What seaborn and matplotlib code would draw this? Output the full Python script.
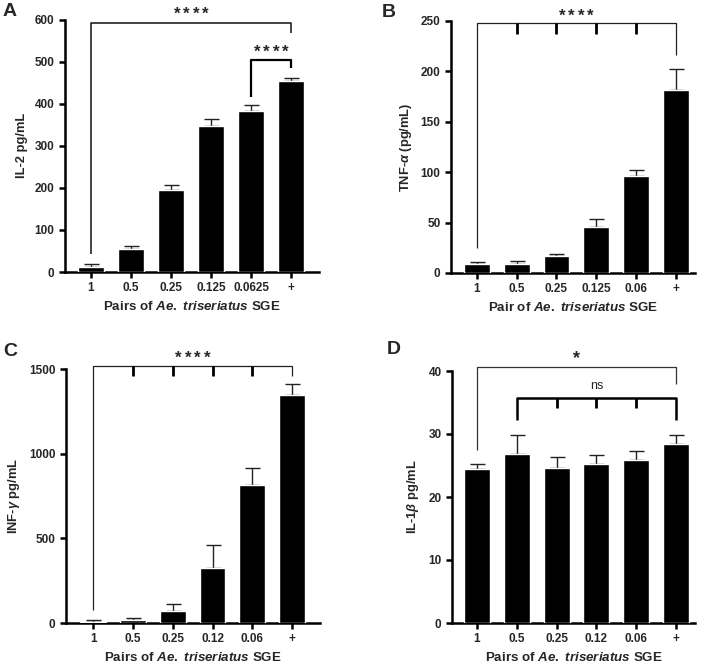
import matplotlib
matplotlib.use("Agg")
import matplotlib.pyplot as plt
import matplotlib.transforms as mtransforms
import seaborn as sns
import pandas as pd

sns.set_style("ticks")
plt.rcParams['font.family'] = ['Liberation Sans', 'DejaVu Sans']
plt.rcParams['font.weight'] = 'bold'
plt.rcParams['mathtext.fontset'] = 'custom'
plt.rcParams['mathtext.it'] = 'Liberation Sans:italic:bold'
plt.rcParams['mathtext.rm'] = 'Liberation Sans:bold'
plt.rcParams['mathtext.bf'] = 'Liberation Sans:bold'

# ---- data ----
cats_a = ["1", "0.5", "0.25", "0.125", "0.0625", "+"]
il2 = [13, 54, 196, 348, 383, 453]
il2_err = [6, 7, 11, 16, 15, 9]

cats_b = ["1", "0.5", "0.25", "0.125", "0.06", "+"]
tnf = [9, 9, 17, 46, 96, 182]
tnf_err = [2, 3, 2, 8, 6, 20]

cats_c = ["1", "0.5", "0.25", "0.12", "0.06", "+"]
ifn = [3, 20, 68, 325, 815, 1345]
ifn_err = [12, 12, 47, 135, 100, 65]

cats_d = ["1", "0.5", "0.25", "0.12", "0.06", "+"]
il1b = [24.4, 26.8, 24.6, 25.2, 25.8, 28.4]
il1b_err = [0.8, 3.0, 1.7, 1.4, 1.5, 1.5]

fig = plt.figure(figsize=(7.07, 6.65), dpi=100)
W, H = 707, 665

def axes_px(l, r, t, b):
    return fig.add_axes([l / W, 1 - b / H, (r - l) / W, (b - t) / H])

axA = axes_px(65, 319, 19.5, 272)
axB = axes_px(451, 695, 21, 273)
axC = axes_px(66, 320, 369, 623)
axD = axes_px(452, 695, 371, 623)

def panel(ax, cats, vals, errs, ylim, yticks, ylabel, xlabel, xlim):
    df = pd.DataFrame({"cat": cats, "val": vals})
    sns.barplot(data=df, x="cat", y="val", order=cats, color="black",
                width=0.65, errorbar=None, ax=ax, saturation=1, zorder=3)
    ax.errorbar(range(len(cats)), vals, yerr=[[0] * len(vals), errs],
                fmt="none", ecolor="#222222", elinewidth=1.0, capsize=5.4,
                capthick=1.0, zorder=2)
    ax.set_ylim(*ylim)
    ax.set_xlim(*xlim)
    ax.set_yticks(yticks)
    ax.set_yticklabels([str(t) for t in yticks])
    ax.set_ylabel(ylabel, fontsize=9.3, fontweight="bold", labelpad=5)
    ax.set_xlabel(xlabel, fontsize=9.6, fontweight="bold", labelpad=4)
    for s in ["top", "right"]:
        ax.spines[s].set_visible(False)
    for s in ["left", "bottom"]:
        ax.spines[s].set_linewidth(1.8)
        ax.spines[s].set_color("black")
    ax.tick_params(axis="both", width=1.8, length=4.5, labelsize=8.5,
                   direction="out", color="black", pad=3)
    for lab in ax.get_xticklabels() + ax.get_yticklabels():
        lab.set_fontweight("bold")

def line(ax, xs, ys, lw=1.0, color="black"):
    ax.plot(xs, ys, color=color, lw=lw, clip_on=False, zorder=5,
            solid_capstyle="butt")

def stars(ax, x, y, n, size=12, spacing_pt=6.8):
    for k in range(n):
        off = (k - (n - 1) / 2) * spacing_pt / 72
        tr = ax.transData + mtransforms.ScaledTranslation(off, 0, fig.dpi_scale_trans)
        ax.text(x, y, "*", transform=tr, ha="center", va="center",
                fontsize=size, fontweight="bold", clip_on=False)

xlab_pairs = r"Pairs of $\mathit{Ae.}$ $\mathit{triseriatus}$ SGE"
xlab_pair = r"Pair of $\mathit{Ae.}$ $\mathit{triseriatus}$ SGE"

# A
panel(axA, cats_a, il2, il2_err, (0, 600), [0, 100, 200, 300, 400, 500, 600],
      "IL-2 pg/mL", xlab_pairs, (-0.65, 5.7))
line(axA, [0, 0, 5, 5], [43, 592, 592, 569], lw=1.1, color="#111111")
stars(axA, 2.5, 612, 4)
line(axA, [4, 4, 5, 5], [416, 503, 503, 484], lw=1.6)
stars(axA, 4.5, 522, 4)

# B
panel(axB, cats_b, tnf, tnf_err, (0, 250), [0, 50, 100, 150, 200, 250],
      r"TNF-$\alpha$ (pg/mL)", xlab_pair, (-0.65, 5.48))
line(axB, [0, 0, 5, 5], [25, 248, 248, 216], lw=0.9, color="#222222")
for i in range(1, 5):
    line(axB, [i, i], [248, 237], lw=2.0)
stars(axB, 2.5, 255, 4)

# C
panel(axC, cats_c, ifn, ifn_err, (0, 1500), [0, 500, 1000, 1500],
      r"INF-$\gamma$ pg/mL", xlab_pairs, (-0.68, 5.7))
line(axC, [0, 0, 5, 5], [75, 1520, 1520, 1460], lw=0.9, color="#222222")
for i in range(1, 5):
    line(axC, [i, i], [1520, 1457], lw=2.0)
stars(axC, 2.5, 1565, 4)

# D
panel(axD, cats_d, il1b, il1b_err, (0, 40), [0, 10, 20, 30, 40],
      r"IL-1$\beta$ pg/mL", xlab_pairs, (-0.63, 5.48))
line(axD, [0, 0, 5, 5], [27.4, 40.6, 40.6, 37.9], lw=0.9, color="#333333")
stars(axD, 2.5, 42.0, 1, size=13)
line(axD, [1, 1, 5, 5], [32.2, 35.7, 35.7, 32.2], lw=1.8)
for i in range(2, 5):
    line(axD, [i, i], [35.7, 34.1], lw=2.0)
axD.text(3, 37.6, "ns", ha="center", va="center", fontsize=9, fontweight="normal")

# panel letters
for lab, x, y in [("A", 3, 12), ("B", 382, 12.5), ("C", 3, 351), ("D", 387, 350)]:
    fig.text(x / W, 1 - y / H, lab, fontsize=14, fontweight="bold", ha="left", va="center")

fig.savefig("out.png", dpi=100, facecolor="white")
